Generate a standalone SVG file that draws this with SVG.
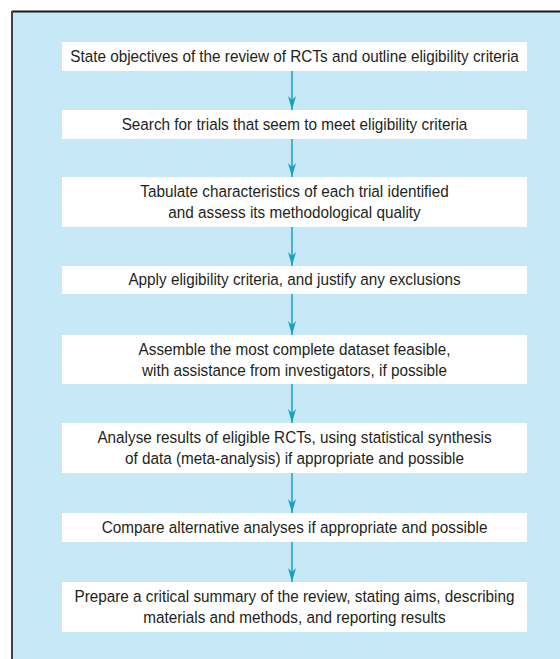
<svg xmlns="http://www.w3.org/2000/svg" width="560" height="659" viewBox="0 0 560 659">
<style>
.bx{fill:#ffffff}
.t{font-family:"Liberation Sans",Arial,sans-serif;font-size:17px;fill:#231f20;text-anchor:middle}
.c{stroke:#1aa2b8;stroke-width:1.5;fill:none}
</style>
<defs>
<marker id="ah" viewBox="0 0 14 8" refX="14" refY="4" markerWidth="14" markerHeight="8" markerUnits="userSpaceOnUse" orient="auto">
<path d="M0,0 L4,4 L0,8 L14,4 Z" fill="#1aa2b8"/>
</marker>
</defs>
<rect x="12" y="12" width="548" height="647" fill="#c6e8f7"/>
<line x1="12" y1="11.5" x2="560" y2="11.5" stroke="#1a1a1a" stroke-width="2"/>
<line x1="12" y1="11" x2="12" y2="659" stroke="#3c4448" stroke-width="2"/>
<g id="connectors">
<line class="c" x1="292" y1="71" x2="292" y2="110" marker-end="url(#ah)"/>
<line class="c" x1="292" y1="139" x2="292" y2="177" marker-end="url(#ah)"/>
<line class="c" x1="292" y1="227" x2="292" y2="266" marker-end="url(#ah)"/>
<line class="c" x1="292" y1="294" x2="292" y2="335" marker-end="url(#ah)"/>
<line class="c" x1="292" y1="384" x2="292" y2="423" marker-end="url(#ah)"/>
<line class="c" x1="292" y1="473" x2="292" y2="513" marker-end="url(#ah)"/>
<line class="c" x1="292" y1="542" x2="292" y2="582" marker-end="url(#ah)"/>
</g>
<g id="n1"><rect class="bx" x="62" y="42" width="465" height="29"/><text class="t" transform="translate(294.5 62) scale(0.9 1)">State objectives of the review of RCTs and outline eligibility criteria</text></g>
<g id="n2"><rect class="bx" x="62" y="110" width="465" height="29"/><text class="t" transform="translate(294.5 130) scale(0.9 1)">Search for trials that seem to meet eligibility criteria</text></g>
<g id="n3"><rect class="bx" x="62" y="177" width="465" height="50"/><text class="t" transform="translate(294.5 197) scale(0.9 1)">Tabulate characteristics of each trial identified</text><text class="t" transform="translate(294.5 218) scale(0.9 1)">and assess its methodological quality</text></g>
<g id="n4"><rect class="bx" x="62" y="266" width="465" height="28"/><text class="t" transform="translate(294.5 285) scale(0.9 1)">Apply eligibility criteria, and justify any exclusions</text></g>
<g id="n5"><rect class="bx" x="62" y="335" width="465" height="49"/><text class="t" transform="translate(294.5 355) scale(0.9 1)">Assemble the most complete dataset feasible,</text><text class="t" transform="translate(294.5 376) scale(0.9 1)">with assistance from investigators, if possible</text></g>
<g id="n6"><rect class="bx" x="62" y="423" width="465" height="50"/><text class="t" transform="translate(294.5 443) scale(0.9 1)">Analyse results of eligible RCTs, using statistical synthesis</text><text class="t" transform="translate(294.5 464) scale(0.9 1)">of data (meta-analysis) if appropriate and possible</text></g>
<g id="n7"><rect class="bx" x="62" y="513" width="465" height="29"/><text class="t" transform="translate(294.5 533) scale(0.9 1)">Compare alternative analyses if appropriate and possible</text></g>
<g id="n8"><rect class="bx" x="62" y="582" width="465" height="50"/><text class="t" transform="translate(294.5 602) scale(0.9 1)">Prepare a critical summary of the review, stating aims, describing</text><text class="t" transform="translate(294.5 623) scale(0.9 1)">materials and methods, and reporting results</text></g>
</svg>
